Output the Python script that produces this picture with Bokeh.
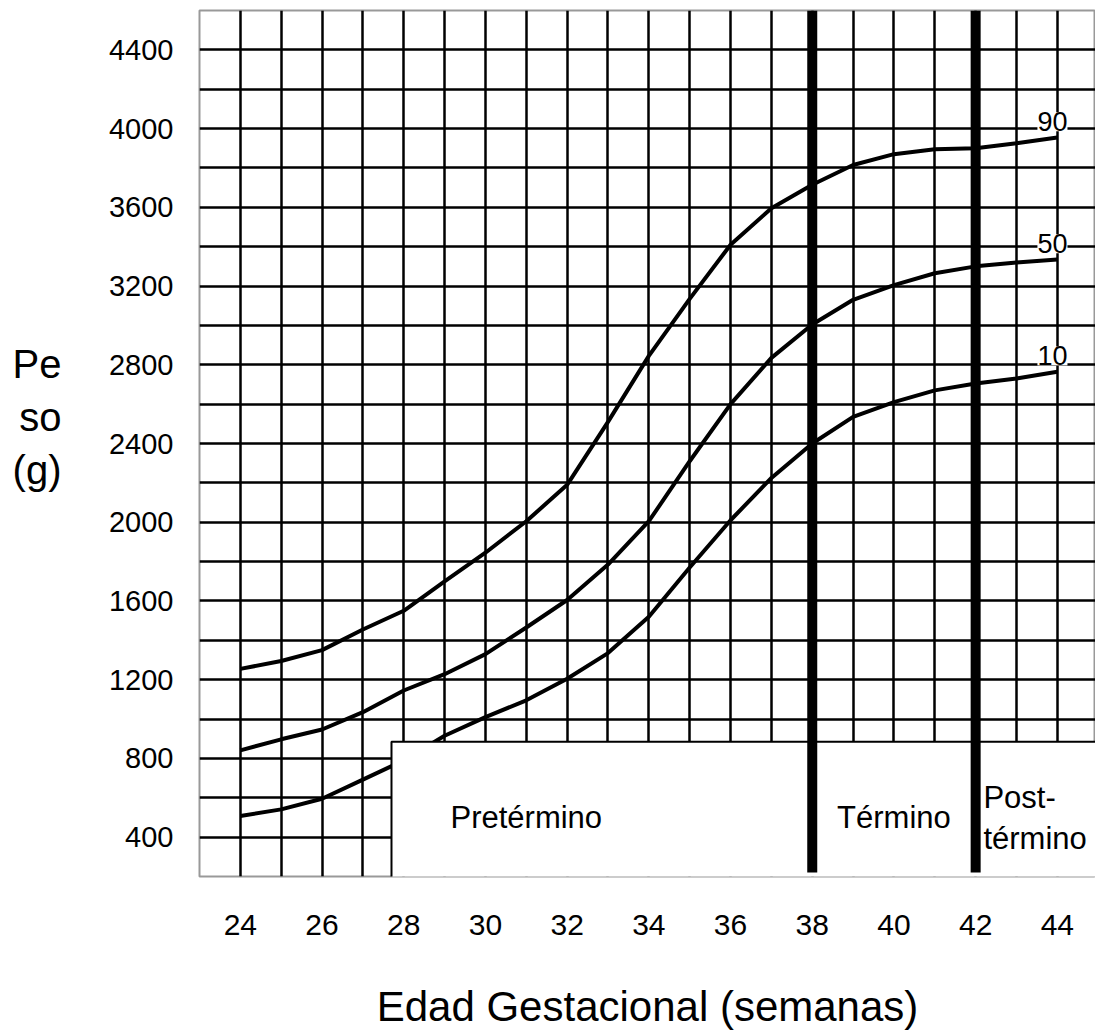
from bokeh.plotting import figure
from bokeh.models import Label, FixedTicker, Range1d, LinearAxis
from bokeh.embed import file_html
from bokeh.resources import INLINE

# ---- data ----
weeks = [24, 25, 26, 27, 28, 29, 30, 31, 32, 33, 34, 35, 36, 37, 38, 39, 40, 41, 42, 43, 44]
p90 = [1255, 1295, 1350, 1455, 1550, 1700, 1845, 2005, 2190, 2510, 2845, 3135, 3410, 3595,
       3715, 3815, 3870, 3895, 3900, 3925, 3955]
p50 = [841, 897, 947, 1035, 1145, 1228, 1330, 1465, 1605, 1785, 2005, 2310, 2600, 2835,
       3005, 3130, 3205, 3265, 3300, 3320, 3335]
p10 = [507, 541, 595, 692, 790, 915, 1010, 1095, 1205, 1335, 1520, 1770, 2010, 2225,
       2400, 2535, 2610, 2670, 2705, 2730, 2765]
percentile_labels = ["90", "50", "10"]
x_ticks = [24, 26, 28, 30, 32, 34, 36, 38, 40, 42, 44]
y_ticks = [400, 800, 1200, 1600, 2000, 2400, 2800, 3200, 3600, 4000, 4400]
x_grid = list(range(23, 46))
y_grid = list(range(200, 4601, 200))
term_limits = [38, 42]
preterm_box = dict(left=27.7, right=46, bottom=150, top=885)
period_names = ["Pretérmino", "Término", "Post-", "término"]

FONT = "Liberation Sans"

p = figure(width=1095, height=1032, x_range=Range1d(23, 44.934), y_range=Range1d(200, 4600),
           output_backend="svg", toolbar_location=None,
           min_border_left=199, min_border_right=0, min_border_top=10, min_border_bottom=155)

p.background_fill_color = "white"
p.border_fill_color = "white"
p.outline_line_color = "#999999"
p.outline_line_width = 2

# grid
p.xgrid.ticker = FixedTicker(ticks=x_grid)
p.ygrid.ticker = FixedTicker(ticks=y_grid)
for g in (p.xgrid, p.ygrid):
    g.grid_line_color = "black"
    g.grid_line_width = 2.5
    g.grid_line_alpha = 1.0

# axes
p.xaxis.ticker = FixedTicker(ticks=x_ticks)
p.yaxis.ticker = FixedTicker(ticks=y_ticks)
for ax in (p.xaxis, p.yaxis):
    ax.axis_line_color = None
    ax.major_tick_line_color = None
    ax.minor_tick_line_color = None
    ax.major_tick_out = 0
    ax.major_tick_in = 0
    ax.major_label_text_font = FONT
    ax.major_label_text_color = "black"
p.xaxis.major_label_text_font_size = "30px"
p.xaxis.major_label_standoff = 38
p.yaxis.major_label_text_font_size = "29px"
p.yaxis.major_label_standoff = 26

p.xaxis.axis_label = "Edad Gestacional (semanas)"
p.xaxis.axis_label_text_font = FONT
p.xaxis.axis_label_text_font_size = "42px"
p.xaxis.axis_label_text_font_style = "normal"
p.xaxis.axis_label_text_color = "black"
p.xaxis.axis_label_text_line_height = 0.8
p.xaxis.axis_label_standoff = 45

# y title as a separate left axis (multi-line, horizontal)
title_axis = LinearAxis(ticker=FixedTicker(ticks=[]),
                        axis_label="Pe\nso\n(g)\n ", axis_label_orientation="horizontal",
                        axis_label_text_font=FONT, axis_label_text_font_size="40px",
                        axis_label_text_font_style="normal", axis_label_text_color="black",
                        axis_label_text_align="left",
                        axis_label_standoff=44, axis_line_color=None,
                        major_tick_line_color=None, minor_tick_line_color=None)
p.add_layout(title_axis, "left")

# curves
for ys in (p90, p50, p10):
    p.line(weeks, ys, line_color="black", line_width=4)

# pre-term box
p.quad(left=[preterm_box["left"]], right=[preterm_box["right"]],
       bottom=[preterm_box["bottom"]], top=[preterm_box["top"]],
       fill_color="white", line_color="black", line_width=2)

# thick term limits
p.segment(x0=term_limits, y0=[220, 220], x1=term_limits, y1=[4600, 4600],
          line_color="black", line_width=10, line_cap="butt")

# percentile labels
for txt, ys in zip(percentile_labels, (p90, p50, p10)):
    p.add_layout(Label(x=43.88, y=ys[-1] + 80, text=txt, text_align="center",
                       text_baseline="middle", text_font=FONT, text_font_size="27px",
                       text_color="black", background_fill_color="white"))

# period labels
p.add_layout(Label(x=31.0, y=501, text=period_names[0], text_align="center", text_baseline="middle",
                   text_font=FONT, text_font_size="31px", text_color="black"))
p.add_layout(Label(x=40.0, y=501, text=period_names[1], text_align="center", text_baseline="middle",
                   text_font=FONT, text_font_size="31px", text_color="black"))
p.add_layout(Label(x=42.19, y=603, text=period_names[2], text_align="left", text_baseline="middle",
                   text_font=FONT, text_font_size="31px", text_color="black"))
p.add_layout(Label(x=42.19, y=395, text=period_names[3], text_align="left", text_baseline="middle",
                   text_font=FONT, text_font_size="31px", text_color="black"))

open("out.html", "w").write(file_html(p, INLINE))
